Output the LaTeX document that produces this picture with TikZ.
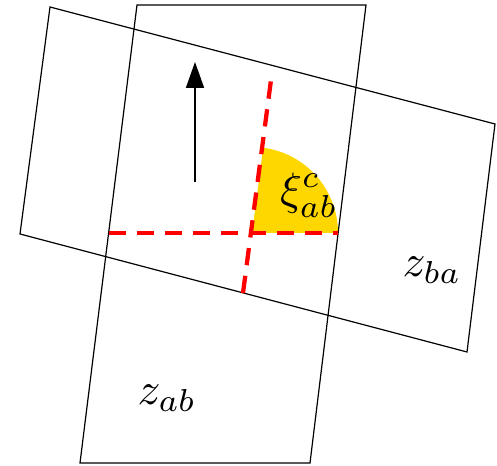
\documentclass[tikz,border=0pt]{standalone}
\usetikzlibrary{arrows.meta}
\begin{document}
\begin{tikzpicture}[x=0.75pt,y=-0.75pt,
  quad/.style={draw=black,line width=0.9pt},
  reddash/.style={draw=red,line width=3.2pt,dash pattern=on 13pt off 8pt},
  lab/.style={inner sep=0pt,scale=3.4}]
\useasboundingbox (0,0) rectangle (497,466);
% quad 1 (upright)
\coordinate (a1) at (137,5);
\coordinate (a2) at (366,5);
\coordinate (a3) at (310,463);
\coordinate (a4) at (80,463);
% quad 2 (tilted)
\coordinate (b1) at (50,7);
\coordinate (b2) at (495,124);
\coordinate (b3) at (467,352);
\coordinate (b4) at (20,234);
% centre of angle
\coordinate (c) at (252,233);
\coordinate (vtop) at (271,80);
\coordinate (vbot) at (243,293);
\coordinate (hl) at (109,233);
\coordinate (hr) at (338,233);
% yellow sector
\begin{scope}
  \clip (a1) -- (a2) -- (a3) -- (a4) -- cycle;
  \fill[color={rgb,255:red,255;green,215;blue,0}] (c) -- ++(0:86) arc[start angle=0,end angle=-82.5,radius=86] -- cycle;
\end{scope}
\draw[quad] (a1) -- (a2) -- (a3) -- (a4) -- cycle;
\draw[quad] (b1) -- (b2) -- (b3) -- (b4) -- cycle;
\draw[reddash] (hl) -- (hr);
\draw[reddash] (vbot) -- (vtop);
% arrow
\coordinate (arrs) at (195,182);
\coordinate (arre) at (195,62);
\draw[line width=1.3pt,-{Triangle[length=19.5pt,width=13.5pt]}] (arrs) -- (arre);
% labels
\node[lab] (xi) at (309,195) {$\xi^c_{ab}$};
\node[lab] (zba) at (432,270) {$z_{ba}$};
\node[lab] (zab) at (167,398) {$z_{ab}$};
\end{tikzpicture}
\end{document}
